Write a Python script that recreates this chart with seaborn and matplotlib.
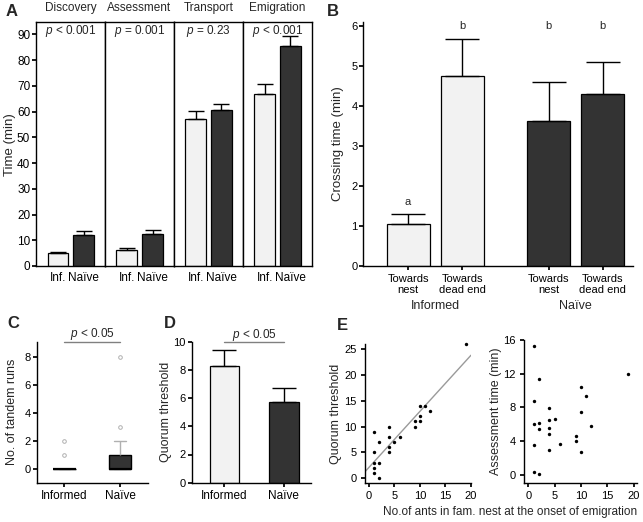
import numpy as np
import pandas as pd
import matplotlib
matplotlib.use('Agg')
import matplotlib.pyplot as plt
import matplotlib.transforms as mtrans
import seaborn as sns

# ---- A: time per stage (mean, upper SE) ----
stages = ['Discovery', 'Assessment', 'Transport', 'Emigration']
groups_a = ['Inf.', 'Naïve']
inf_time = [5.0, 6.2, 57.2, 66.7]
inf_err = [0.4, 0.7, 3.2, 4.0]
naive_time = [11.9, 12.3, 60.7, 85.5]
naive_err = [1.7, 1.5, 2.3, 4.0]
p_text = ['< 0.001', '= 0.001', '= 0.23', '< 0.001']

# ---- B: crossing time ----
b_labels = ['Towards\nnest', 'Towards\ndead end', 'Towards\nnest', 'Towards\ndead end']
b_group = ['Informed', 'Informed', 'Naïve', 'Naïve']
b_time = [1.05, 4.75, 3.62, 4.30]
b_err = [0.25, 0.92, 0.98, 0.80]
b_letters = ['a', 'b', 'b', 'b']
b_letter_y = [1.6, 6.0, 6.0, 6.0]

# ---- C: tandem runs per colony ----
tandem_informed = [0, 0, 0, 0, 0, 0, 0, 0, 0, 0, 0, 0, 0, 0, 0, 0, 0, 0, 0, 1, 2]
tandem_naive = [0, 0, 0, 0, 0, 0, 0, 0, 0, 0, 0, 0, 1, 1, 1, 1, 1, 2, 2, 3, 8]

# ---- D: quorum threshold ----
d_groups = ['Informed', 'Naïve']
quorum = [8.27, 5.74]
quorum_err = [1.12, 0.98]

# ---- E: scatter ----
fam_ants_q = [1, 4, 4, 2, 5, 6, 4, 4, 1, 1, 2, 1, 1, 2, 9, 10, 9, 10, 10, 11, 12, 19]
quorum_e = [9, 10, 8, 7, 7, 8, 6, 5, 5, 3, 3, 2, 1, 0, 11, 11, 10, 12, 14, 14, 13, 26]
fam_ants_a = [1, 2, 1, 1, 2, 2, 1, 1, 2, 4, 4, 5, 4, 4, 6, 4, 9, 9, 10, 10, 10, 11, 12, 19]
assess_e = [15.3, 11.4, 8.8, 6.0, 6.1, 5.5, 3.6, 0.3, 0.1, 7.9, 6.5, 6.6, 5.6, 4.8,
            3.65, 2.95, 4.6, 4.05, 10.4, 7.4, 2.7, 9.4, 5.8, 12.0]

LIGHT = '#f2f2f2'
DARK = '#333333'
W, H = 643, 522

sns.set_theme(style='ticks')
plt.rcParams['font.family'] = ['Liberation Sans', 'DejaVu Sans']
plt.rcParams['mathtext.fontset'] = 'custom'
plt.rcParams['mathtext.it'] = 'Liberation Sans:italic'
plt.rcParams['mathtext.rm'] = 'Liberation Sans'
plt.rcParams['axes.edgecolor'] = 'black'
plt.rcParams['axes.linewidth'] = 1.0
plt.rcParams['xtick.color'] = 'black'
plt.rcParams['ytick.color'] = 'black'
plt.rcParams['xtick.labelsize'] = 8
plt.rcParams['ytick.labelsize'] = 8
plt.rcParams['xtick.major.size'] = 3
plt.rcParams['ytick.major.size'] = 3
plt.rcParams['ytick.major.pad'] = 1.2
plt.rcParams['xtick.major.pad'] = 2.5


def box(x0, y_top, x1, y_bot):
    """像素坐标 -> 图坐标"""
    return [x0 / W, 1 - y_bot / H, (x1 - x0) / W, (y_bot - y_top) / H]


def add_err(ax, errs, capsize):
    bars = sorted(ax.patches, key=lambda p: p.get_x())
    xs = [p.get_x() + p.get_width() / 2 for p in bars]
    hs = [p.get_height() for p in bars]
    ax.errorbar(xs, hs, yerr=[np.zeros(len(errs)), errs], fmt='none',
                ecolor='black', elinewidth=1, capsize=capsize, capthick=1)


fig = plt.figure(figsize=(W / 100, H / 100), dpi=100)

# ================= A =================
sub_w = (311.7 - 36) / 4
for i, st in enumerate(stages):
    ax = fig.add_axes(box(36 + i * sub_w, 22.3, 36 + (i + 1) * sub_w, 266))
    sns.barplot(x=groups_a, y=[inf_time[i], naive_time[i]], hue=groups_a,
                palette=[LIGHT, DARK], legend=False, edgecolor='black',
                linewidth=0.9, width=0.8, ax=ax)
    add_err(ax, [inf_err[i], naive_err[i]], 6)
    ax.set_xlim(-0.85, 1.83)
    ax.set_ylim(0, 94.7)
    ax.set_title(st, fontsize=8.5, pad=8)
    ax.text(0.5, 0.966, f'$p$ {p_text[i]}', transform=ax.transAxes,
            ha='center', va='center', fontsize=8.5)
    ax.tick_params(axis='x', length=0, labelsize=8.5, pad=4)
    ax.set_xlabel('')
    if i == 0:
        ax.set_yticks(range(0, 91, 10))
        ax.tick_params(axis='y', labelsize=8.5)
        ax.set_ylabel('Time (min)', fontsize=9.5, labelpad=1)
    else:
        ax.set_yticks([])
        ax.set_ylabel('')

# ================= B =================
ax = fig.add_axes(box(363.3, 21.7, 633.3, 266))
b_pos = [0, 1, 2.6, 3.6]
df_b = pd.DataFrame({'pos': b_pos, 'time': b_time, 'group': b_group})
sns.barplot(data=df_b, x='pos', y='time', hue='group', palette=[LIGHT, DARK],
            native_scale=True, dodge=False, legend=False, edgecolor='black',
            linewidth=0.9, width=0.8, ax=ax)
add_err(ax, b_err, 12)
for x, lt, ly in zip(b_pos, b_letters, b_letter_y):
    ax.text(x, ly, lt, ha='center', va='center', fontsize=8)
ax.set_xlim(-0.83, 4.17)
ax.set_ylim(0, 6.11)
ax.set_yticks(range(0, 7))
ax.set_xticks(b_pos, labels=b_labels, fontsize=8)
ax.set_xlabel('')
ax.set_ylabel('Crossing time (min)', fontsize=9.5, labelpad=5)
trans = mtrans.blended_transform_factory(ax.transData, ax.transAxes)
for g in ['Informed', 'Naïve']:
    gx = np.mean([p for p, gg in zip(b_pos, b_group) if gg == g])
    ax.text(gx, -0.164, g, transform=trans, ha='center', va='center', fontsize=9)
sns.despine(ax=ax)

# ================= C =================
ax = fig.add_axes(box(36.7, 341.7, 147.7, 482.7))
df_c = pd.DataFrame({
    'group': ['Informed'] * len(tandem_informed) + ['Naïve'] * len(tandem_naive),
    'runs': tandem_informed + tandem_naive})
sns.boxplot(data=df_c, x='group', y='runs', hue='group', palette=[DARK, DARK],
            legend=False, width=0.4, linecolor='black', linewidth=1,
            whiskerprops=dict(color='#b0b0b0'), capprops=dict(color='#b0b0b0'),
            flierprops=dict(marker='o', markerfacecolor='none',
                            markeredgecolor='#b0b0b0', markersize=2.6, markeredgewidth=0.7),
            medianprops=dict(color='black', linewidth=1.6), ax=ax)
ax.set_xlim(-0.5, 1.5)
ax.set_ylim(-0.95, 9.05)
ax.set_yticks([0, 2, 4, 6, 8])
ax.plot([0, 1], [9.05, 9.05], color='#808080', lw=1, clip_on=False)
ax.text(0.5, 9.6, '$p$ < 0.05', ha='center', va='center', fontsize=8.5)
ax.set_xlabel('')
ax.set_ylabel('No. of tandem runs', fontsize=9, labelpad=5)
ax.tick_params(axis='x', labelsize=8.5)
sns.despine(ax=ax)

# ================= D =================
ax = fig.add_axes(box(191.7, 341.7, 310.7, 482.7))
sns.barplot(x=d_groups, y=quorum, hue=d_groups, palette=[LIGHT, DARK],
            legend=False, edgecolor='black', linewidth=0.9, width=0.5, ax=ax)
add_err(ax, quorum_err, 8.4)
ax.set_xlim(-0.55, 1.45)
ax.set_ylim(0, 10)
ax.set_yticks(range(0, 11, 2))
ax.plot([0, 1], [10, 10], color='#808080', lw=1, clip_on=False)
ax.text(0.5, 10.47, '$p$ < 0.05', ha='center', va='center', fontsize=8.5)
ax.set_ylabel('Quorum threshold', fontsize=9, labelpad=1)
ax.tick_params(axis='x', labelsize=8.5)
sns.despine(ax=ax)

# ================= E =================
ax = fig.add_axes(box(365, 344, 471, 483.3))
ax.set_xlim(-0.8, 20.05)
sns.regplot(x=fam_ants_q, y=quorum_e, scatter=False, ci=None, truncate=False,
            color='#9a9a9a', line_kws={'linewidth': 1}, ax=ax)
sns.scatterplot(x=fam_ants_q, y=quorum_e, color='black', s=6, linewidth=0,
                ax=ax, clip_on=False, zorder=3)
ax.set_xlim(-0.8, 20.05)
ax.set_ylim(-1, 26)
ax.set_xticks(range(0, 21, 5))
ax.set_yticks(range(0, 26, 5))
ax.set_ylabel('Quorum threshold', fontsize=9, labelpad=1.5)
ax.tick_params(labelsize=8)
ax.tick_params(axis='y', pad=3)
sns.despine(ax=ax)

ax = fig.add_axes(box(524, 340, 636.7, 483.3))
sns.scatterplot(x=fam_ants_a, y=assess_e, color='black', s=6, linewidth=0,
                ax=ax, clip_on=False, zorder=3)
ax.set_xlim(-0.82, 20.6)
ax.set_ylim(-1, 16)
ax.set_xticks(range(0, 21, 5))
ax.set_yticks(range(0, 17, 4))
ax.set_ylabel('Assessment time (min)', fontsize=9, labelpad=1)
ax.tick_params(labelsize=8)
ax.tick_params(axis='y', pad=3)
sns.despine(ax=ax)

fig.text(510 / W, 1 - 511.7 / H, 'No.of ants in fam. nest at the onset of emigration',
         ha='center', va='center', fontsize=8.5)

# 面板字母
for lt, x, y in [('A', 12, 11), ('B', 333, 11), ('C', 13, 324), ('D', 170, 324), ('E', 342, 325)]:
    fig.text(x / W, 1 - y / H, lt, fontsize=12, fontweight='bold', ha='center', va='center')

fig.savefig('out.png', dpi=100)
